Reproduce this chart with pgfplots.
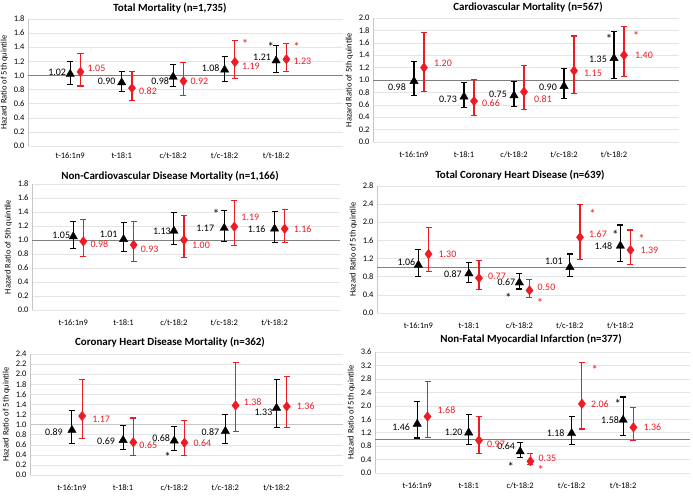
\documentclass[border=0pt]{standalone}
\usepackage{fontspec}
\setmainfont{Carlito}
\usepackage{pgfplots}
\pgfplotsset{compat=1.18}
\definecolor{hrred}{RGB}{237,28,36}
\pgfplotsset{
 hr/.style={
   scale only axis, anchor=south west, clip=false,
   xmin=0.08, xmax=6.2, ymin=0,
   axis lines*=left,
   x axis line style={draw=none},
   y axis line style={draw=gray!45, line width=0.6pt, -},
   tick style={draw=none},
   ymajorgrids, grid style={draw=gray!20, line width=0.5pt},
   xtick={0.9,1.9,2.9,3.9,4.9},
   xticklabels={t-16:1n9,t-18:1,c/t-18:2,t/c-18:2,t/t-18:2},
   xticklabel style={font=\fontsize{8.5}{10}\selectfont, yshift=-6bp},
   yticklabel style={font=\fontsize{8.5}{10}\selectfont},
   yticklabel={\pgfmathprintnumber[fixed,fixed zerofill,precision=1]{\tick}},
   /pgf/number format/assume math mode=true,
   ylabel={Hazard Ratio of 5th quintile},
   ylabel style={font=\fontsize{8.5}{10}\selectfont, yshift=-1bp},
 },
 ref/.style={gray, line width=0.8pt, forget plot},
 blk/.style={black, only marks, mark=triangle*, mark size=4.8bp,
   error bars/y dir=both, error bars/y explicit,
   error bars/error mark=-,
   error bars/error bar style={line width=1.1pt, black},
   error bars/error mark options={rotate=90, line width=1.1pt, mark size=3bp, black},
   point meta=y,
   visualization depends on={\thisrow{dx} \as \ldx},
   visualization depends on={\thisrow{dy} \as \ldy},
   nodes near coords={\pgfmathprintnumber[fixed,fixed zerofill,precision=2]{\pgfplotspointmeta}},
   every node near coord/.append style={anchor=east, inner sep=0pt, xshift=\ldx pt, yshift=\ldy pt, font=\fontsize{10}{12}\selectfont, text=black},
 },
 rd/.style={hrred, only marks, mark=diamond*, mark size=4.8bp, mark options={fill=hrred},
   error bars/y dir=both, error bars/y explicit,
   error bars/error mark=-,
   error bars/error bar style={line width=1.1pt, hrred},
   error bars/error mark options={rotate=90, line width=1.1pt, mark size=3bp, hrred},
   point meta=y,
   visualization depends on={\thisrow{dx} \as \ldx},
   visualization depends on={\thisrow{dy} \as \ldy},
   nodes near coords={\pgfmathprintnumber[fixed,fixed zerofill,precision=2]{\pgfplotspointmeta}},
   every node near coord/.append style={anchor=west, inner sep=0pt, xshift=\ldx pt, yshift=\ldy pt, font=\fontsize{10}{12}\selectfont, text=hrred},
 },
 table/ci/.style={x=x, y=y, y error plus expr=\thisrow{hi}-\thisrow{y}, y error minus expr=\thisrow{y}-\thisrow{lo}},
}
\tikzset{ast/.style={font=\fontsize{13}{13}\selectfont, inner sep=0pt}}
\begin{document}
\begin{tikzpicture}
\useasboundingbox (0,0) rectangle (693bp,496bp);
\tikzset{ttl/.style={font=\bfseries\fontsize{11}{13}\selectfont}}
\node[ttl] at (170bp,488bp) {Total Mortality (n=1,735)};
\node[ttl] at (528bp,489bp) {Cardiovascular Mortality (n=567)};
\node[ttl] at (170bp,320bp) {Non-Cardiovascular Disease Mortality (n=1,166)};
\node[ttl] at (520bp,321bp) {Total Coronary Heart Disease (n=639)};
\node[ttl] at (170bp,154bp) {Coronary Heart Disease Mortality (n=362)};
\node[ttl] at (531bp,157bp) {Non-Fatal Myocardial Infarction (n=377)};

% Panel 1
\begin{axis}[hr, at={(28bp,350bp)}, width=315bp, height=127bp, ymax=1.8, ytick={0,0.2,...,1.8}, xticklabel style={yshift=3bp}]
\addplot[ref] coordinates {(0.08,1) (6.2,1)};
\addplot[blk] table[ci] {
x y lo hi dx dy
0.9 1.02 0.87 1.20 -4 2
1.9 0.90 0.77 1.06 -6 1
2.9 0.98 0.84 1.15 -4 -4
3.9 1.08 0.92 1.27 -5 2
4.9 1.21 1.04 1.42 -5 3
};
\addplot[rd] table[ci] {
x y lo hi dx dy
1.1 1.05 0.85 1.31 7 4
2.1 0.82 0.64 1.05 7 -3
3.1 0.92 0.72 1.18 7 0
4.1 1.19 0.96 1.49 7 -4
5.1 1.23 1.05 1.45 7 -2
};
\node[ast, text=hrred] at (axis cs:4.3,1.45) {*};
\node[ast, text=black] at (axis cs:4.8,1.40) {*};
\node[ast, text=hrred] at (axis cs:5.3,1.40) {*};
\end{axis}

% Panel 2
\begin{axis}[hr, at={(373bp,354bp)}, width=306bp, height=124bp, ymax=2.0, ytick={0,0.2,...,2.0}]
\addplot[ref] coordinates {(0.08,1) (6.2,1)};
\addplot[blk] table[ci] {
x y lo hi dx dy
0.9 0.98 0.75 1.30 -8 -6
1.9 0.73 0.56 0.96 -7 -3
2.9 0.75 0.57 0.98 -7 1
3.9 0.90 0.70 1.19 -7 -1
4.9 1.35 1.03 1.78 -7 -1
};
\addplot[rd] table[ci] {
x y lo hi dx dy
1.1 1.20 0.82 1.77 10 4
2.1 0.66 0.43 1.01 8 -2
3.1 0.81 0.53 1.24 10 -7
4.1 1.15 0.78 1.71 10 -3
5.1 1.40 1.06 1.87 11 0
};
\node[ast, text=black] at (axis cs:4.8,1.66) {*};
\node[ast, text=hrred] at (axis cs:5.34,1.71) {*};
\end{axis}

% Panel 3
\begin{axis}[hr, at={(32bp,186bp)}, width=308bp, height=126bp, ymax=1.8, ytick={0,0.2,...,1.8}]
\addplot[ref] coordinates {(0.08,1) (6.2,1)};
\addplot[blk] table[ci] {
x y lo hi dx dy
0.9 1.05 0.88 1.27 -3 1
1.9 1.01 0.84 1.25 -6 5
2.9 1.13 0.94 1.39 -3 0
3.9 1.17 0.98 1.42 -10 0
4.9 1.16 0.97 1.41 -9 0
};
\addplot[rd] table[ci] {
x y lo hi dx dy
1.1 0.98 0.77 1.29 7 -3
2.1 0.93 0.69 1.27 7 -4
3.1 1.00 0.75 1.35 8 -5
4.1 1.19 0.92 1.57 7 9
5.1 1.16 0.97 1.43 9 0
};
\node[ast, text=black] at (axis cs:3.74,1.37) {*};
\end{axis}

% Panel 4
\begin{axis}[hr, at={(377bp,183bp)}, width=309bp, height=127bp, ymax=2.8, ytick={0,0.4,...,2.8}]
\addplot[ref] coordinates {(0.08,1) (6.2,1)};
\addplot[blk] table[ci] {
x y lo hi dx dy
0.9 1.06 0.80 1.39 -3 3
1.9 0.87 0.68 1.11 -7 -1
2.9 0.67 0.53 0.87 -4 0
3.9 1.01 0.80 1.30 -7 6
4.9 1.48 1.13 1.94 -8 0
};
\addplot[rd] table[ci] {
x y lo hi dx dy
1.1 1.30 0.91 1.89 10 0
2.1 0.77 0.51 1.16 9 2
3.1 0.50 0.34 0.73 8 3
4.1 1.67 1.18 2.40 9 3
5.1 1.39 1.07 1.83 10 0
};
\node[ast, text=hrred] at (axis cs:4.35,2.19) {*};
\node[ast, text=black] at (axis cs:4.8,1.73) {*};
\node[ast, text=hrred] at (axis cs:5.32,1.63) {*};
\node[ast, text=black] at (axis cs:2.68,0.33) {*};
\node[ast, text=hrred] at (axis cs:3.31,0.22) {*};
\end{axis}

% Panel 5
\begin{axis}[hr, at={(30bp,21bp)}, width=313bp, height=121bp, ymax=2.4, ytick={0,0.2,...,2.4}]
\addplot[gray!45, line width=1.6pt, forget plot] coordinates {(0.08,1) (6.2,1)};
\addplot[blk] table[ci] {
x y lo hi dx dy
0.9 0.89 0.62 1.28 -9 -2
1.9 0.69 0.50 0.98 -8 -1
2.9 0.68 0.49 0.97 -4 3
3.9 0.87 0.62 1.20 -6 -1
4.9 1.33 0.94 1.89 -4 -4
};
\addplot[rd] table[ci] {
x y lo hi dx dy
1.1 1.17 0.72 1.90 10 -3
2.1 0.65 0.38 1.13 6 -3
3.1 0.64 0.38 1.08 9 0
4.1 1.38 0.86 2.23 8 3
5.1 1.36 0.95 1.96 10 0
};
\node[ast, text=black] at (axis cs:2.77,0.36) {*};
\end{axis}

% Panel 6
\begin{axis}[hr, at={(375bp,23bp)}, width=315bp, height=121bp, ymax=3.6, ytick={0,0.4,...,3.6}]
\addplot[ref] coordinates {(0.08,1) (6.2,1)};
\addplot[blk] table[ci] {
x y lo hi dx dy
0.9 1.46 1.04 2.13 -7 -3
1.9 1.20 0.85 1.75 -6 0
2.9 0.64 0.47 0.91 -5 5
3.9 1.18 0.86 1.67 -7 0
4.9 1.58 1.12 2.26 -4 0
};
\addplot[rd] table[ci] {
x y lo hi dx dy
1.1 1.68 1.05 2.73 10 6
2.1 0.97 0.58 1.68 8 -4
3.1 0.35 0.24 0.57 8 3
4.1 2.06 1.31 3.28 9 0
5.1 1.36 0.97 1.95 10 0
};
\node[ast, text=hrred] at (axis cs:4.35,3.08) {*};
\node[ast, text=black] at (axis cs:4.8,2.05) {*};
\node[ast, text=black] at (axis cs:2.72,0.18) {*};
\node[ast, text=hrred] at (axis cs:3.3,0.08) {*};
\end{axis}
\end{tikzpicture}
\end{document}
